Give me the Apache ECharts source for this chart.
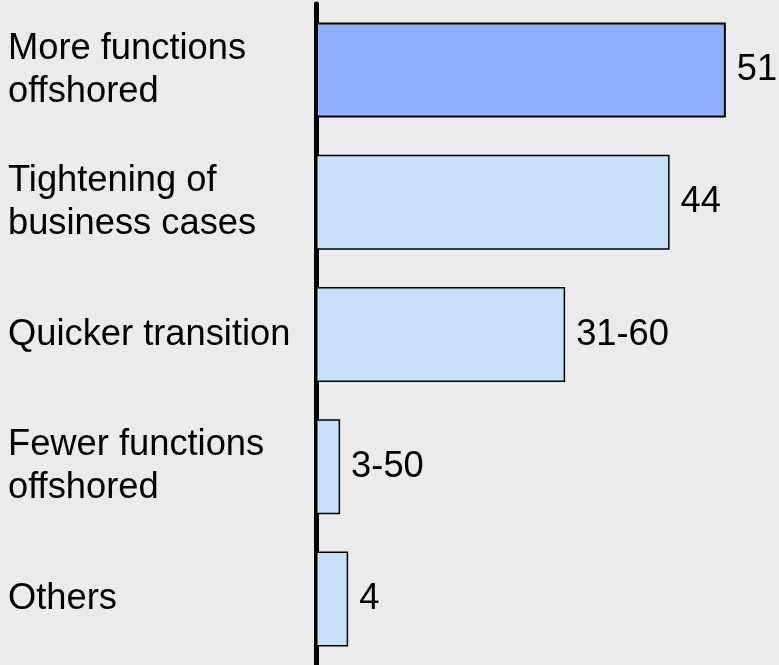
<!DOCTYPE html>
<html>
<head>
<meta charset="utf-8">
<style>
  html, body { margin: 0; padding: 0; background: #ebebeb; }
  #chart { width: 779px; height: 665px; }
</style>
<script src="https://cdn.jsdelivr.net/npm/echarts@6/dist/echarts.min.js"></script>
</head>
<body>
<div id="chart"></div>
<script>
// Reasons for changes in offshoring plans
const categories = [
  'More functions\noffshored',
  'Tightening of\nbusiness cases',
  'Quicker transition',
  'Fewer functions\noffshored',
  'Others'
];
const values = [51, 44, 31, 3, 4];
const valueLabels = ['51', '44', '31-60', '3-50', '4'];
const highlightIndex = 0;

const FONT = '"Liberation Sans", Arial, sans-serif';

const chart = echarts.init(document.getElementById('chart'));

chart.setOption({
  backgroundColor: '#ebebeb',
  animation: false,
  grid: { left: 316, right: 21, top: 4, bottom: -2, containLabel: false },
  xAxis: {
    type: 'value',
    min: 0,
    max: 55,
    show: false
  },
  yAxis: {
    type: 'category',
    data: categories,
    inverse: true,
    axisLine: { show: true, lineStyle: { color: '#000', width: 5 } },
    axisTick: { show: false },
    splitLine: { show: false },
    axisLabel: {
      align: 'left',
      margin: 308,
      fontFamily: FONT,
      fontSize: 36.3,
      lineHeight: 43,
      color: '#000'
    }
  },
  series: [{
    type: 'bar',
    barWidth: 95,
    data: values.map((v, i) => ({
      value: v,
      itemStyle: i === highlightIndex
        ? { color: '#91b0ff', borderColor: '#000', borderWidth: 2 }
        : { color: '#c6e0fa', borderColor: '#000', borderWidth: 1.5 }
    })),
    label: {
      show: true,
      position: 'right',
      distance: 11,
      fontFamily: FONT,
      fontSize: 36.3,
      color: '#000',
      formatter: p => valueLabels[p.dataIndex]
    }
  }]
});
</script>
</body>
</html>
